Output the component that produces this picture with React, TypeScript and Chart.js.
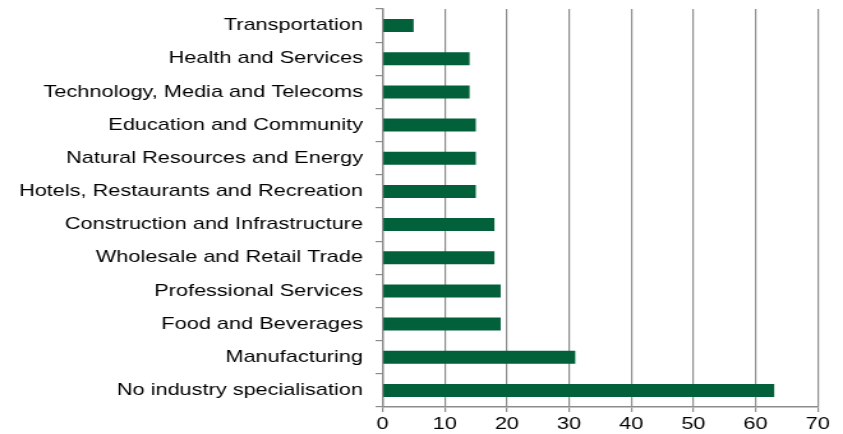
import React, { useEffect, useRef } from "react";
import { Chart, registerables } from "chart.js";

Chart.register(...registerables);

const categories: string[] = [
  "Transportation",
  "Health and Services",
  "Technology, Media and Telecoms",
  "Education and Community",
  "Natural Resources and Energy",
  "Hotels, Restaurants and Recreation",
  "Construction and Infrastructure",
  "Wholesale and Retail Trade",
  "Professional Services",
  "Food and Beverages",
  "Manufacturing",
  "No industry specialisation",
];

const values: number[] = [5, 14, 14, 15, 15, 15, 18, 18, 19, 19, 31, 63];

const xMin = 0;
const xMax = 70;
const xStep = 10;

const CANVAS_W = 660; // drawn narrower, then stretched to 843px like the reference
const CANVAS_H = 434;

export default function App() {
  const ref = useRef<HTMLCanvasElement | null>(null);

  useEffect(() => {
    if (!ref.current) return;
    const font = { family: "'Liberation Sans', Arial, sans-serif", size: 17 };
    const chart = new Chart(ref.current, {
      type: "bar",
      data: {
        labels: categories,
        datasets: [
          {
            data: values,
            backgroundColor: "#02613A",
            borderWidth: 0,
            barPercentage: 0.39,
            categoryPercentage: 1,
          },
        ],
      },
      options: {
        indexAxis: "y",
        animation: false,
        responsive: false,
        devicePixelRatio: 1,
        layout: { padding: { top: 0, right: 19.8, left: 0, bottom: 0 } },
        plugins: {
          legend: { display: false },
          tooltip: { enabled: false },
        },
        scales: {
          x: {
            min: xMin,
            max: xMax,
            ticks: { stepSize: xStep, color: "#000", font, padding: 2 },
            grid: {
              color: "#8c8c8c",
              lineWidth: 1.2,
              drawTicks: true,
              tickLength: 5,
            },
            border: { display: true, color: "#8c8c8c", width: 1.6 },
            afterFit: (scale: any) => {
              scale.height = 27;
            },
          },
          y: {
            ticks: { color: "#000", font, padding: 9.8 },
            grid: {
              offset: true,
              drawOnChartArea: false,
              drawTicks: true,
              tickLength: 5.5,
              color: "#8c8c8c",
              lineWidth: 1.2,
            },
            border: { display: true, color: "#8c8c8c", width: 1.4 },
            afterFit: (scale: any) => {
              scale.width = 299.5;
              scale.paddingTop = 9;
              scale.paddingBottom = 0;
            },
          },
        },
      },
    });
    return () => chart.destroy();
  }, []);

  return (
    <div style={{ position: "fixed", left: 0, top: 0, width: 843, height: 434, background: "#fff" }}>
      <canvas
        ref={ref}
        width={CANVAS_W}
        height={CANVAS_H}
        style={{ width: "843px", height: "434px", display: "block" }}
      />
    </div>
  );
}
